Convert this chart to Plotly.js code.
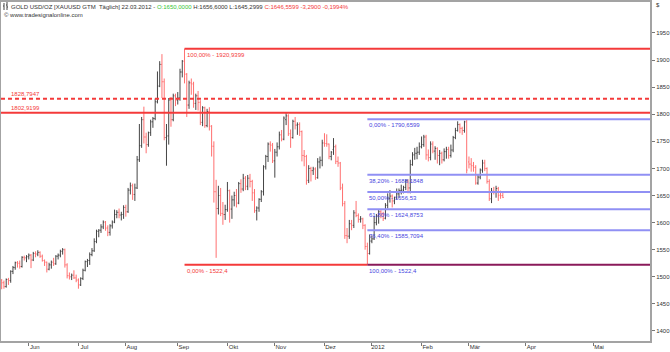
<!DOCTYPE html>
<html>
<head>
<meta charset="utf-8">
<script src="https://cdn.plot.ly/plotly-3.0.1.min.js"></script>
<style>html,body{margin:0;padding:0;background:#fff;}#chart{width:670px;height:352px;}</style>
</head>
<body>
<div id="chart"></div>
<script>
// Daily bars, first bar 2011-05-16, weekdays (no bar on 2011-12-26), last bar 2012-03-22
const startDate = '2011-05-16';
const skippedDays = ['2011-12-26'];

const open = [1493,1489,1482,1495,1493,1510,1517,1526,1525,1519, 1536,1535,1537,1540,1531,1543,1542,1545,1538,1530,
  1527,1514,1522,1527,1524,1538,1540,1547,1550,1522, 1502,1500,1503,1498,1494,1485,1497,1512,1528,1530,
  1541,1548,1565,1584,1586,1592,1601,1590,1582,1594, 1601,1615,1619,1614,1615,1628,1620,1660,1668,1652,
  1664,1716,1742,1790,1758,1744,1766,1786,1792,1823, 1852,1892,1860,1757,1760,1826,1790,1834,1826,1830,
  1878,1898,1874,1817,1858,1856,1820,1834,1822,1785, 1812,1779,1805,1778,1741,1657,1626,1650,1617,1615,
  1624,1659,1625,1642,1650,1636,1672,1662,1682,1667, 1682,1676,1655,1622,1627,1643,1657,1703,1722,1745,
  1743,1714,1730,1740,1762,1754,1790,1797,1764,1757, 1787,1780,1781,1768,1724,1722,1678,1700,1696,1699,
  1683,1712,1715,1747,1746,1745,1722,1735,1740,1713, 1710,1664,1635,1576,1575,1598,1595,1618,1613,1606,
  1607,1595,1556,1543,1566,1570,1600,1612,1620,1616, 1608,1632,1645,1649,1640,1646,1653,1659,1660,1665,
  1677,1664,1707,1725,1728,1730,1740,1744,1758,1725, 1720,1745,1732,1737,1724,1728,1716,1731,1735,1724,
  1734,1757,1770,1781,1774,1770,1786,1712,1708,1705, 1702,1673,1684,1697,1710,1700,1676,1644,1658,1657,
  1663,1651,1650];
const high = [1496,1493,1497,1498,1512,1520,1528,1529,1530,1538, 1539,1540,1543,1542,1546,1547,1549,1547,1541,1532,
  1528,1526,1530,1535,1540,1543,1550,1553,1552,1525, 1508,1506,1512,1504,1497,1499,1515,1530,1533,1545,
  1553,1571,1587,1588,1597,1604,1603,1595,1597,1604, 1624,1623,1626,1620,1632,1633,1664,1674,1672,1672,
  1723,1782,1795,1814,1766,1768,1790,1795,1829,1879, 1898,1911,1866,1782,1830,1832,1838,1838,1841,1884,
  1900,1920.94,1876,1862,1866,1860,1838,1843,1826,1815, 1814,1810,1813,1780,1750,1679,1668,1664,1638,1633,
  1675,1661,1650,1657,1662,1675,1680,1690,1686,1688, 1690,1679,1662,1630,1645,1660,1706,1725,1748,1750,
  1747,1736,1748,1768,1771,1796,1802,1800,1772,1790, 1795,1785,1785,1770,1734,1725,1706,1703,1703,1702,
  1719,1722,1753,1765,1763,1746,1732,1756,1744,1722, 1712,1672,1640,1590,1605,1605,1623,1640,1617,1612,
  1609,1597,1563,1578,1576,1612,1616,1625,1623,1620, 1636,1654,1660,1652,1648,1663,1663,1670,1668,1680,
  1680,1716,1730,1738,1740,1748,1759,1762,1762,1735, 1750,1750,1741,1739,1734,1731,1737,1740,1740,1744,
  1760,1775,1787,1783,1777,1788,1790.66,1722,1719,1712, 1706,1688,1700,1716,1716,1702,1680,1664,1666,1668,
  1666,1659,1656.6];
const low = [1477,1478,1480,1485,1489,1505,1513,1517,1515,1517, 1530,1527,1532,1516,1529,1536,1538,1535,1528,1520,
  1508,1512,1515,1520,1522,1532,1536,1541,1517,1497, 1495,1494,1496,1490,1478,1483,1494,1510,1518,1522,
  1538,1546,1562,1573,1581,1588,1585,1575,1576,1589, 1599,1608,1608,1604,1607,1611,1618,1652,1642,1640,
  1662,1712,1738,1746,1728,1740,1760,1775,1789,1820, 1850,1830,1752,1705,1744,1777,1787,1815,1818,1825,
  1868,1857,1795,1810,1836,1812,1808,1807,1780,1778, 1775,1776,1770,1722,1637,1535,1615,1612,1596,1605,
  1620,1600,1607,1630,1628,1634,1655,1658,1660,1660, 1665,1640,1618,1604,1620,1638,1650,1698,1712,1731,
  1710,1683,1722,1735,1750,1752,1780,1760,1738,1755, 1772,1762,1760,1713,1704,1670,1673,1676,1688,1679,
  1681,1700,1704,1740,1740,1717,1715,1725,1708,1703, 1660,1630,1570,1562,1570,1586,1590,1610,1600,1600,
  1588,1550,1522.4,1541,1562,1568,1595,1598,1608,1603, 1606,1626,1637,1628,1634,1643,1646,1652,1654,1660,
  1654,1654,1705,1716,1717,1725,1737,1740,1716,1713, 1715,1728,1716,1709,1706,1709,1713,1718,1718,1720,
  1730,1754,1768,1765,1762,1766,1691,1700,1694,1694, 1670,1670,1680,1692,1695,1672,1640,1636,1652,1646,
  1640,1644,1645.2999];
const close = [1489,1482,1495,1493,1510,1517,1526,1525,1519,1536, 1535,1537,1540,1531,1543,1542,1545,1538,1530,1527,
  1514,1522,1527,1524,1538,1540,1547,1550,1522,1502, 1500,1503,1498,1494,1485,1497,1512,1528,1530,1541,
  1548,1565,1584,1586,1592,1601,1590,1582,1594,1601, 1615,1619,1614,1615,1628,1620,1660,1668,1652,1664,
  1716,1742,1790,1758,1744,1766,1786,1792,1823,1852, 1892,1860,1757,1760,1826,1790,1834,1826,1830,1878,
  1898,1874,1817,1858,1856,1820,1834,1822,1785,1812, 1779,1805,1778,1741,1657,1626,1650,1617,1615,1624,
  1659,1625,1642,1650,1636,1672,1662,1682,1667,1682, 1676,1655,1622,1627,1643,1657,1703,1722,1745,1743,
  1714,1730,1740,1762,1754,1793,1797,1764,1757,1787, 1780,1781,1768,1724,1722,1678,1700,1696,1699,1683,
  1712,1715,1747,1746,1745,1722,1730,1740,1713,1710, 1664,1635,1576,1575,1598,1595,1618,1613,1606,1607,
  1595,1556,1543,1566,1570,1600,1612,1620,1616,1608, 1632,1645,1649,1640,1646,1653,1659,1660,1665,1677,
  1664,1707,1725,1728,1730,1740,1744,1758,1725,1720, 1745,1732,1737,1724,1728,1716,1731,1735,1724,1734,
  1757,1770,1781,1774,1770,1786,1697,1708,1705,1702, 1673,1684,1697,1710,1700,1676,1644,1658,1657,1663,
  1650,1649.85,1646.5599];

// Month tick labels
const monthLabels = ['Jun','Jul','Aug','Sep','Okt','Nov','Dez','2012','Feb','Mär','Apr','Mai'];
const monthStarts = ['2011-06-01','2011-07-01','2011-08-01','2011-09-01','2011-10-01','2011-11-01','2011-12-01',
  '2012-01-01','2012-02-01','2012-03-01','2012-04-01','2012-05-01'];
const yTicks = [1400,1450,1500,1550,1600,1650,1700,1750,1800,1850,1900,1950];

// Horizontal levels
const highLevel = {label:'100,00% - 1920,9399', value:1920.9399, fromDate:'2011-09-06'};
const lowLevel = {label:'0,00% - 1522,4', value:1522.4, fromDate:'2011-09-06'};
const resistLevels = [{label:'1828,7947', value:1828.7947, dash:'4px,3px'}, {label:'1802,9199', value:1802.9199, dash:'solid'}];
const fibLabels = ['0,00% - 1790,6599','38,20% - 1688,1848','50,00% - 1656,53','61,80% - 1624,8753','76,40% - 1585,7094','100,00% - 1522,4'];
const fibValues = [1790.6599,1688.1848,1656.53,1624.8753,1585.7094,1522.4];
const fibFromDate = '2011-12-29';

// ---- build trading-day categories ----
function iso(d){return d.toISOString().slice(0,10);}
const dates = [];
{
  let d = new Date(startDate+'T00:00:00Z');
  while (dates.length < close.length) {
    const wd = d.getUTCDay();
    const s = iso(d);
    if (wd !== 0 && wd !== 6 && skippedDays.indexOf(s) < 0) dates.push(s);
    d = new Date(d.getTime()+86400000);
  }
}
const xs = dates.map((_, k) => k);
const lastDate = new Date(dates[dates.length-1]+'T00:00:00Z');
function dateToX(s){
  const k = dates.findIndex(v => v >= s);
  if (k >= 0) return k;
  // beyond the data: future axis runs in calendar days
  const dd = (new Date(s+'T00:00:00Z') - lastDate)/86400000;
  return xs.length-1+dd;
}
const tickX = monthStarts.map(dateToX);
const xRange = [-0.3, 287.2];
const yRange = [1381.5, 2007.2];

const FONT = 'Arial, "Liberation Sans", sans-serif';
const RED = '#f43a3a';
const BLUE_LINE = '#9090f4';
const BLUE_TEXT = '#4747e0';

const trace = {
  type:'ohlc', x:xs, open:open, high:high, low:low, close:close,
  text: dates, hoverinfo:'text+y',
  increasing:{line:{color:'#454545', width:1}},
  decreasing:{line:{color:'#ff7070', width:1}},
  tickwidth:0.4
};

const shapes = [];
const annotations = [];
const xHi = dateToX(highLevel.fromDate);
shapes.push({type:'line', xref:'x', yref:'y', x0:xHi, x1:xRange[1], y0:highLevel.value, y1:highLevel.value, line:{color:RED, width:2}});
annotations.push({xref:'x', yref:'y', x:xHi, y:highLevel.value, xanchor:'left', yanchor:'top', yshift:-1, text:highLevel.label, showarrow:false, font:{family:FONT, size:6, color:RED}});
resistLevels.forEach(r => {
  shapes.push({type:'line', xref:'paper', yref:'y', x0:0, x1:1, y0:r.value, y1:r.value, line:{color:RED, width:2, dash:r.dash}});
  annotations.push({xref:'paper', yref:'y', x:0.013, y:r.value, xanchor:'left', yanchor:'bottom', yshift:0, text:r.label, showarrow:false, font:{family:FONT, size:6, color:RED}});
});
const xFib = dateToX(fibFromDate);
shapes.push({type:'line', xref:'x', yref:'y', x0:xHi, x1:xFib, y0:lowLevel.value, y1:lowLevel.value, line:{color:RED, width:2}});
annotations.push({xref:'x', yref:'y', x:xHi, y:lowLevel.value, xanchor:'left', yanchor:'top', yshift:-1, text:lowLevel.label, showarrow:false, font:{family:FONT, size:6, color:RED}});
fibValues.forEach((v, k) => {
  const last = k === fibValues.length-1;
  shapes.push({type:'line', xref:'x', yref:'y', x0:xFib, x1:xRange[1], y0:v, y1:v, line:{color: last ? '#8a1a5a' : BLUE_LINE, width:2}});
  annotations.push({xref:'x', yref:'y', x:xFib, y:v, xanchor:'left', yanchor:'top', yshift:-1, text:fibLabels[k], showarrow:false, font:{family:FONT, size:6, color:BLUE_TEXT}});
});

// header
function px2x(p){return (p-1)/649;}
function py2y(p){return (341-p)/339;}
annotations.push({xref:'paper', yref:'paper', x:px2x(9), y:py2y(1.5), xanchor:'left', yanchor:'top', showarrow:false,
  text:'GOLD USD/OZ [XAUUSD GTM&nbsp; Täglich] 22.03.2012 - <span style="color:#35c435">O:1650,0000</span> H:1656,6000 L:1645,2999 <span style="color:#f43a3a">C:1646,5599 -3,2900 -0,1994%</span>',
  font:{family:FONT, size:6, color:'#333'}});
annotations.push({xref:'paper', yref:'paper', x:px2x(2), y:py2y(15), xanchor:'left', yanchor:'middle', showarrow:false,
  text:'© www.tradesignalonline.com', font:{family:FONT, size:6, color:'#333'}});
annotations.push({xref:'paper', yref:'paper', x:px2x(654), y:py2y(5), xanchor:'left', yanchor:'middle', showarrow:false,
  text:'$', font:{family:FONT, size:6, color:'#333'}});
// small OHLC icon
[[4,3,4,10],[3,6,4,6],[7,2,7,10],[6,5,7,5],[7,7,8,7]].forEach(s => {
  shapes.push({type:'line', xref:'paper', yref:'paper', x0:px2x(s[0]), y0:py2y(s[1]), x1:px2x(s[2]), y1:py2y(s[3]), line:{color:'#444', width:1}});
});

const layout = {
  width:670, height:352,
  margin:{l:1, r:20, t:2, b:11, pad:0},
  paper_bgcolor:'#fff', plot_bgcolor:'#fff',
  showlegend:false,
  xaxis:{range:xRange, showgrid:false, zeroline:false, showline:true, mirror:true, linecolor:'#a3a3a3', linewidth:2,
    ticks:'outside', ticklen:3, tickcolor:'#777', tickwidth:1, tickvals:tickX, ticktext:monthLabels,
    tickfont:{family:FONT, size:6, color:'#333'}, ticklabelshift:6, ticklabelstandoff:-4, rangeslider:{visible:false}, fixedrange:true},
  yaxis:{range:yRange, side:'right', showgrid:false, zeroline:false, showline:true, mirror:true, linecolor:'#a3a3a3', linewidth:2,
    ticks:'outside', ticklen:3, tickcolor:'#777', tickwidth:1, tickvals:yTicks, ticktext:yTicks.map(String),
    tickfont:{family:FONT, size:6, color:'#333'}, fixedrange:true},
  shapes:shapes, annotations:annotations
};
Plotly.newPlot('chart', [trace], layout, {displayModeBar:false, staticPlot:true});
</script>
</body>
</html>
